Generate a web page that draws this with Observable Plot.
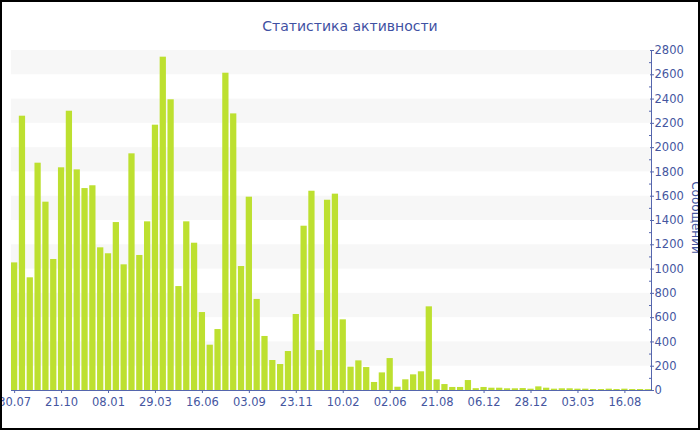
<!DOCTYPE html>
<html>
<head>
<meta charset="utf-8">
<script src="https://cdn.jsdelivr.net/npm/d3@7"></script>
<script src="https://cdn.jsdelivr.net/npm/@observablehq/plot@0.6"></script>
<style>
html, body { margin: 0; padding: 0; background: #fff; }
#wrap { position: relative; width: 700px; height: 430px; box-sizing: border-box; border: 2px solid #000; overflow: hidden; font-family: "DejaVu Sans", sans-serif; background: #fff; }
#title { position: absolute; left: 0; right: 0; top: 16px; text-align: center; font-size: 14px; line-height: 16px; color: #3f51a3; }
#chart { position: absolute; left: 0; top: 0; }
</style>
</head>
<body>
<div id="wrap">
  <div id="chart"></div>
  <div id="title">Статистика активности</div>
</div>
<script>
// Message counts per period
const values = [
  1051, 2259, 928, 1872, 1551, 1079, 1834, 2300, 1817, 1663,
  1686, 1175, 1126, 1383, 1035, 1949, 1112, 1389, 2185, 2745,
  2394, 856, 1389, 1213, 642, 373, 502, 2613, 2278, 1021,
  1592, 750, 445, 247, 214, 321, 626, 1353, 1641, 329,
  1567, 1617, 582, 192, 244, 189, 66, 145, 263, 27,
  88, 129, 154, 689, 88, 49, 25, 25, 82, 15,
  25, 19, 19, 14, 14, 16, 11, 30, 19, 11,
  14, 14, 11, 11, 8, 8, 11, 8, 11, 8,
  8, 7
];
// Tick labels shown every 6th bar
const tickLabels = ["30.07", "21.10", "08.01", "29.03", "16.06", "03.09", "23.11", "10.02", "02.06", "21.08", "06.12", "28.12", "03.03", "16.08"];
const tickEvery = 6;
const yMax = 2800;
const yStep = 200;
const yAxisLabel = "Сообщений";

const axisColor = "#5566ad";
const textColor = "#45569f";

const data = values.map((v, i) => ({i, v}));
const majorTicks = d3.range(0, yMax + 1, yStep);
const minorTicks = d3.range(yStep / 2, yMax, yStep);
// alternate stripes between gridlines (every other band, starting from top)
const stripes = d3.range(0, majorTicks.length - 1)
  .filter(k => k % 2 === 1)
  .map(k => ({y1: majorTicks[k], y2: majorTicks[k + 1]}));

const chart = Plot.plot({
  width: 696,
  height: 426,
  marginLeft: 9,
  marginRight: 47,
  marginTop: 48,
  marginBottom: 38,
  style: {fontFamily: "DejaVu Sans", fontSize: "11.5px", color: textColor, background: "transparent", overflow: "visible"},
  x: {type: "band", domain: d3.range(values.length), paddingInner: 0.2, paddingOuter: 0, label: null},
  y: {domain: [0, yMax], label: null},
  marks: [
    Plot.rect(stripes, {y1: "y1", y2: "y2", fill: "#f7f7f7"}),
    Plot.barY(data, {x: "i", y: "v", fill: "#bde030"}),
    Plot.ruleY([0], {stroke: axisColor}),
    Plot.frame({anchor: "right", stroke: axisColor}),
    Plot.axisX({
      ticks: tickLabels.map((_, k) => k * tickEvery),
      tickFormat: i => tickLabels[i / tickEvery],
      tickSize: 3, tickPadding: 4, stroke: axisColor, fill: textColor, label: null
    }),
    Plot.axisY({anchor: "right", ticks: minorTicks, tickSize: 3, dx: -3, text: null, stroke: axisColor, label: null}),
    Plot.axisY({anchor: "right", ticks: majorTicks, tickSize: 4, dx: -2, text: null, stroke: axisColor, label: null}),
    Plot.axisY({anchor: "right", ticks: majorTicks, tickSize: 0, tickPadding: 3, tickFormat: d => String(d), fill: textColor, label: null}),
    Plot.text([yAxisLabel], {frameAnchor: "right", textAnchor: "middle", text: d => d, rotate: 90, dx: 44, dy: -3, fill: textColor, fontSize: 12})
  ]
});
document.getElementById("chart").appendChild(chart);
</script>
</body>
</html>
